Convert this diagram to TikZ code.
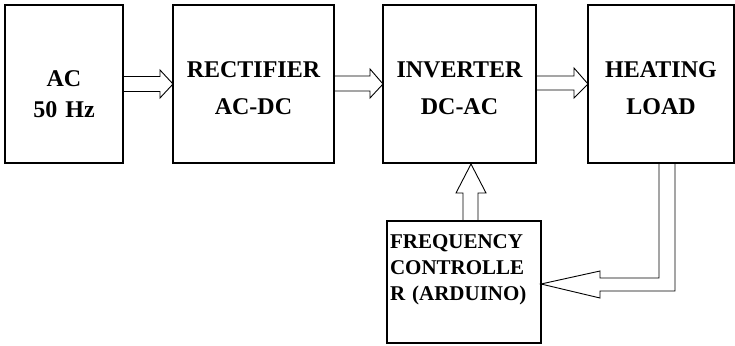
\documentclass[tikz,border=0pt]{standalone}
\usepackage{fontspec}
\setmainfont{Liberation Serif}
\usetikzlibrary{calc}

\begin{document}
\begin{tikzpicture}[x=1pt, y=1pt]
    \tikzset{
        blockstyle/.style={draw, line width=1.1pt, outer sep=0pt, inner sep=0pt,
            align=center, minimum height=158pt, text height=72pt, text depth=86pt,
            font=\fontsize{24}{37}\selectfont\bfseries},
        ctrlstyle/.style={draw, line width=1.1pt, outer sep=0pt, inner xsep=3pt, inner ysep=0pt,
            align=left, text width=148pt, text height=27pt, text depth=95pt,
            font=\fontsize{21}{26}\selectfont\bfseries},
        fatarrow/.style={draw, line width=0.9pt, line join=miter}
    }
    \useasboundingbox (0,0) rectangle (735,-345);

    % --- main chain of blocks ---
    \node[blockstyle, text width=118pt, text height=81pt, text depth=77pt,
        font=\fontsize{24}{31}\selectfont\bfseries] (ac) at (64,-84) {AC\\50 Hz};
    \node[blockstyle, text width=161pt] (rect) at (253.5,-84) {RECTIFIER\\AC-DC};
    \node[blockstyle, text width=153pt] (inv) at (459.5,-84) {INVERTER\\DC-AC};
    \node[blockstyle, text width=146pt] (heat) at (661,-84) {HEATING\\LOAD};

    % controller
    \node[ctrlstyle] (freq) at (464,-282) {FREQUENCY\\CONTROLLE\\R (ARDUINO)};

    % --- hollow arrows between blocks ---
    \draw[fatarrow] ($(ac.east)+(0,7.5)$) -- ($(rect.west)+(-13,7.5)$) -- ($(rect.west)+(-13,14)$)
        -- (rect.west) -- ($(rect.west)+(-13,-14)$) -- ($(rect.west)+(-13,-7.5)$) -- ($(ac.east)+(0,-7.5)$);
    \draw[fatarrow] ($(rect.east)+(0,8)$) -- ($(inv.west)+(-13,8)$) -- ($(inv.west)+(-13,15)$)
        -- (inv.west) -- ($(inv.west)+(-13,-14)$) -- ($(inv.west)+(-13,-7)$) -- ($(rect.east)+(0,-7)$);
    \draw[fatarrow] ($(inv.east)+(0,8)$) -- ($(heat.west)+(-14,8)$) -- ($(heat.west)+(-14,16)$)
        -- (heat.west) -- ($(heat.west)+(-14,-14)$) -- ($(heat.west)+(-14,-6)$) -- ($(inv.east)+(0,-6)$);

    % controller -> inverter
    \draw[fatarrow] ($(freq.north)+(-1,0)$) -- ($(freq.north)+(-1,28)$) -- ($(freq.north)+(-8,28)$)
        -- ($(freq.north)+(7,57)$) -- ($(freq.north)+(22,28)$) -- ($(freq.north)+(14,28)$)
        -- ($(freq.north)+(14,0)$);

    % load -> controller (feedback)
    \draw[fatarrow] ($(heat.south)+(-2,0)$) |- ($(freq.east)+(59,4)$) -- ($(freq.east)+(59,11)$)
        -- ($(freq.east)+(0,-2)$) -- ($(freq.east)+(59,-16)$) -- ($(freq.east)+(59,-9)$)
        -| ($(heat.south)+(14,0)$);
\end{tikzpicture}
\end{document}
